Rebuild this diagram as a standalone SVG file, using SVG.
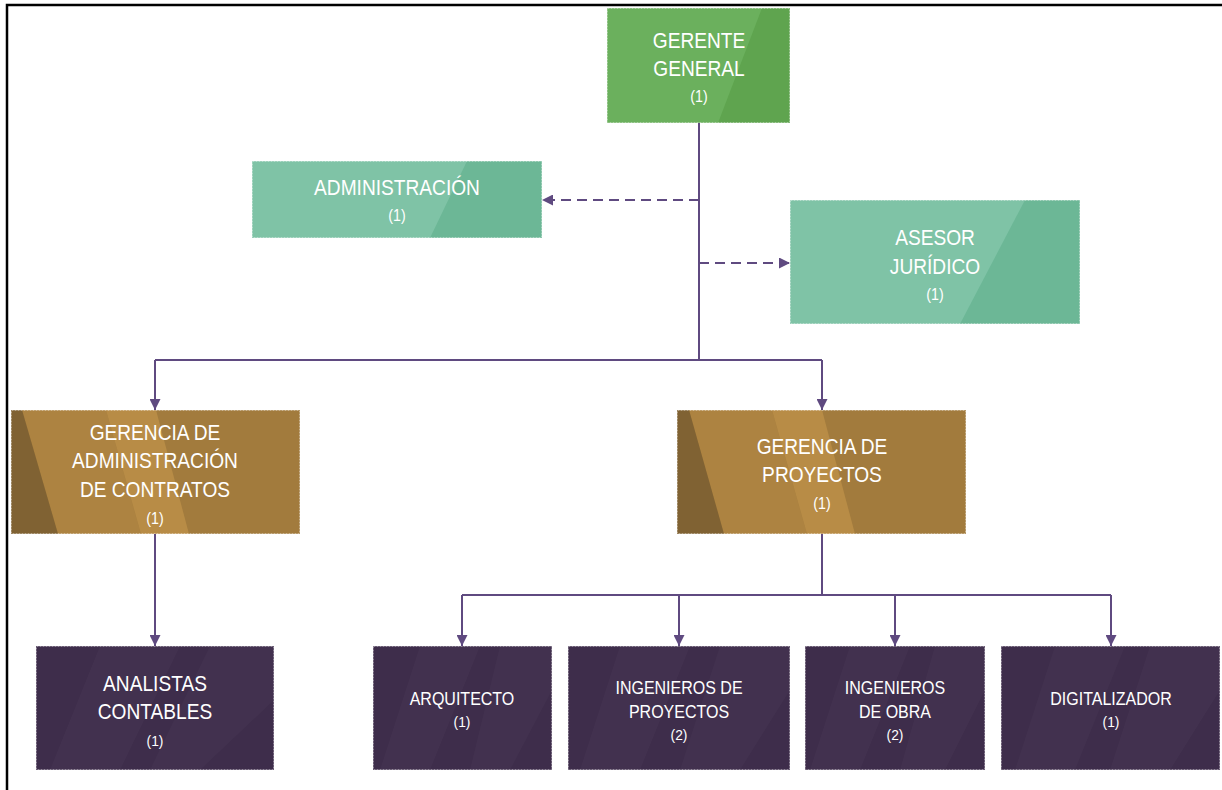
<svg xmlns="http://www.w3.org/2000/svg" width="1222" height="790" viewBox="0 0 1222 790">
<style>
  text { font-family: "Liberation Sans", Arial, sans-serif; fill: #ffffff; text-anchor: middle; }
  .big { font-size: 21.5px; }
  .mid { font-size: 18px; }
  .num { font-size: 16px; }
  .sm { font-size: 15.5px; }
  .edge { stroke: #ffffff; stroke-opacity: 0.45; stroke-width: 1; stroke-dasharray: 2 1; fill: none; }
  .conn { stroke: #5f4a80; stroke-width: 2; fill: none; }
  .dash { stroke-dasharray: 10 6; }
</style>
<defs>
  <marker id="arr" viewBox="0 0 10 10" refX="10" refY="5" markerWidth="11" markerHeight="11" markerUnits="userSpaceOnUse" orient="auto">
    <path d="M0,0 L10,5 L0,10 z" fill="#5f4a80"/>
  </marker>
</defs>
<rect width="1222" height="790" fill="#ffffff"/>
<path d="M7,790 L7,5 L1222,5" stroke="#000000" stroke-width="2.5" fill="none"/>

<g id="connectors">
  <path class="conn" d="M699,123 L699,360"/>
  <path class="conn dash" d="M699,200 L542,200" marker-end="url(#arr)"/>
  <path class="conn dash" d="M699,263 L790,263" marker-end="url(#arr)"/>
  <path class="conn" d="M155,360 L822,360"/>
  <path class="conn" d="M155,360 L155,410" marker-end="url(#arr)"/>
  <path class="conn" d="M822,360 L822,410" marker-end="url(#arr)"/>
  <path class="conn" d="M155,534 L155,646" marker-end="url(#arr)"/>
  <path class="conn" d="M822,534 L822,595"/>
  <path class="conn" d="M462,595 L1111,595"/>
  <path class="conn" d="M462,595 L462,646" marker-end="url(#arr)"/>
  <path class="conn" d="M679,595 L679,646" marker-end="url(#arr)"/>
  <path class="conn" d="M895,595 L895,646" marker-end="url(#arr)"/>
  <path class="conn" d="M1111,595 L1111,646" marker-end="url(#arr)"/>
</g>

<g id="gerente-general">
  <rect x="607" y="8" width="183" height="115" fill="#6bb05d"/>
  <polygon points="762,8 790,8 790,123 718,123" fill="#5fa44f"/>
  <rect class="edge" x="607.5" y="8.5" width="182" height="114"/>
  <g transform="translate(699,0) scale(0.89,1)">
    <text class="big" x="0" y="48">GERENTE</text>
    <text class="big" x="0" y="76">GENERAL</text>
    <text class="num" x="0" y="102">(1)</text>
  </g>
</g>

<g id="administracion">
  <rect x="252" y="161" width="290" height="77" fill="#7fc3a6"/>
  <polygon points="467,161 542,161 542,238 430,238" fill="#6cb796"/>
  <rect class="edge" x="252.5" y="161.5" width="289" height="76"/>
  <g transform="translate(397,0) scale(0.89,1)">
    <text class="big" x="0" y="195">ADMINISTRACIÓN</text>
    <text class="num" x="0" y="221">(1)</text>
  </g>
</g>

<g id="asesor-juridico">
  <rect x="790" y="200" width="290" height="124" fill="#7fc3a6"/>
  <polygon points="1025,200 1080,200 1080,324 960,324" fill="#6cb796"/>
  <rect class="edge" x="790.5" y="200.5" width="289" height="123"/>
  <g transform="translate(935,0) scale(0.89,1)">
    <text class="big" x="0" y="245">ASESOR</text>
    <text class="big" x="0" y="274">JURÍDICO</text>
    <text class="num" x="0" y="300">(1)</text>
  </g>
</g>

<g id="gerencia-admin-contratos">
  <rect x="11" y="410" width="289" height="124" fill="#a27b3d"/>
  <polygon points="22,410 106,410 141,534 58,534" fill="#ad8341"/>
  <polygon points="106,410 156,410 189,534 141,534" fill="#b88c46"/>
  <polygon points="11,410 22,410 58,534 11,534" fill="#806233"/>
  <rect class="edge" x="11.5" y="410.5" width="288" height="123"/>
  <g transform="translate(155,0) scale(0.89,1)">
    <text class="big" x="0" y="440">GERENCIA DE</text>
    <text class="big" x="0" y="468">ADMINISTRACIÓN</text>
    <text class="big" x="0" y="497">DE CONTRATOS</text>
    <text class="num" x="0" y="524">(1)</text>
  </g>
</g>

<g id="gerencia-proyectos">
  <rect x="677" y="410" width="289" height="124" fill="#a27b3d"/>
  <polygon points="689,410 772,410 807,534 724,534" fill="#ad8341"/>
  <polygon points="772,410 822,410 855,534 807,534" fill="#b88c46"/>
  <polygon points="677,410 689,410 724,534 677,534" fill="#806233"/>
  <rect class="edge" x="677.5" y="410.5" width="288" height="123"/>
  <g transform="translate(822,0) scale(0.89,1)">
    <text class="big" x="0" y="454">GERENCIA DE</text>
    <text class="big" x="0" y="482">PROYECTOS</text>
    <text class="num" x="0" y="509">(1)</text>
  </g>
</g>

<g id="analistas-contables">
  <rect x="36" y="646" width="238" height="124" fill="#3e2d4b"/>
  <polygon points="100,646 180,646 120,770 50,770" fill="#ffffff" fill-opacity="0.025"/>
  <polygon points="210,646 274,646 274,700 200,770 150,770" fill="#ffffff" fill-opacity="0.025"/>
  <rect class="edge" x="36.5" y="646.5" width="237" height="123"/>
  <g transform="translate(155,0) scale(0.89,1)">
    <text class="big" x="0" y="691">ANALISTAS</text>
    <text class="big" x="0" y="719">CONTABLES</text>
    <text class="sm" x="0" y="746">(1)</text>
  </g>
</g>

<g id="arquitecto">
  <rect x="373" y="646" width="179" height="124" fill="#3e2d4b"/>
  <polygon points="420,646 480,646 430,770 380,770" fill="#ffffff" fill-opacity="0.025"/>
  <polygon points="500,646 552,646 552,690 510,770 470,770" fill="#ffffff" fill-opacity="0.025"/>
  <rect class="edge" x="373.5" y="646.5" width="178" height="123"/>
  <g transform="translate(462,0) scale(0.89,1)">
    <text class="mid" x="0" y="705">ARQUITECTO</text>
    <text class="sm" x="0" y="727">(1)</text>
  </g>
</g>

<g id="ingenieros-proyectos">
  <rect x="568" y="646" width="222" height="124" fill="#3e2d4b"/>
  <polygon points="620,646 690,646 640,770 580,770" fill="#ffffff" fill-opacity="0.025"/>
  <polygon points="720,646 790,646 790,690 740,770 680,770" fill="#ffffff" fill-opacity="0.025"/>
  <rect class="edge" x="568.5" y="646.5" width="221" height="123"/>
  <g transform="translate(679,0) scale(0.89,1)">
    <text class="mid" x="0" y="694">INGENIEROS DE</text>
    <text class="mid" x="0" y="718">PROYECTOS</text>
    <text class="sm" x="0" y="740">(2)</text>
  </g>
</g>

<g id="ingenieros-obra">
  <rect x="805" y="646" width="180" height="124" fill="#3e2d4b"/>
  <polygon points="850,646 910,646 860,770 810,770" fill="#ffffff" fill-opacity="0.025"/>
  <polygon points="935,646 985,646 985,690 945,770 900,770" fill="#ffffff" fill-opacity="0.025"/>
  <rect class="edge" x="805.5" y="646.5" width="179" height="123"/>
  <g transform="translate(895,0) scale(0.89,1)">
    <text class="mid" x="0" y="694">INGENIEROS</text>
    <text class="mid" x="0" y="718">DE OBRA</text>
    <text class="sm" x="0" y="740">(2)</text>
  </g>
</g>

<g id="digitalizador">
  <rect x="1001" y="646" width="219" height="124" fill="#3e2d4b"/>
  <polygon points="1055,646 1125,646 1075,770 1015,770" fill="#ffffff" fill-opacity="0.025"/>
  <polygon points="1150,646 1220,646 1220,690 1170,770 1110,770" fill="#ffffff" fill-opacity="0.025"/>
  <rect class="edge" x="1001.5" y="646.5" width="218" height="123"/>
  <g transform="translate(1111,0) scale(0.89,1)">
    <text class="mid" x="0" y="705">DIGITALIZADOR</text>
    <text class="sm" x="0" y="727">(1)</text>
  </g>
</g>
</svg>
